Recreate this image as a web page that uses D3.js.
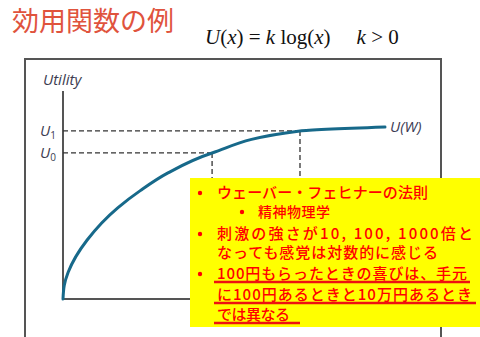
<!DOCTYPE html>
<html><head><meta charset="utf-8">
<script src="https://cdn.jsdelivr.net/npm/d3@7"></script>
<style>body{margin:0;background:#fff;overflow:hidden}</style></head>
<body>
<svg id="c" width="480" height="337"></svg>
<script>
// ---- data ----
const wealth  = [0, 0.4, 1.6, 7.5, 17, 24, 32.6, 46.3, 73.6, 100];
const utility = [0, 8, 15.5, 34.3, 53, 63, 73.3, 84.9, 97.7, 100];
const markW = [46.3, 73.6];
const markU = [84.9, 97.7];
const markSub = ["0", "1"];
const titleText = "効用関数の例";
const yAxisTitle = "Utility";
const curveLabel = "U(W)";
const noteLines = [
  {text: "ウェーバー・フェヒナーの法則", bullet: 1, level: 0, under: false},
  {text: "精神物理学", bullet: 1, level: 1, under: false},
  {text: "刺激の強さが10, 100, 1000倍と", bullet: 1, level: 0, under: false},
  {text: "なっても感覚は対数的に感じる", bullet: 0, level: 0, under: false},
  {text: "100円もらったときの喜びは、手元", bullet: 1, level: 0, under: true},
  {text: "に100円あるときと10万円あるとき", bullet: 0, level: 0, under: true},
  {text: "では異なる", bullet: 0, level: 0, under: true}
];
const lineY = [193, 212, 234, 253, 274, 295, 315];
const lineW = [211, 72, 256, 221, 250, 255, 73];
const underEnd = [0, 0, 0, 0, 470, 476, 300];

const svg = d3.select("#c");
const x = d3.scaleLinear([0, 100], [63, 385]);
const y = d3.scaleLinear([0, 100], [299, 127]);
const jp = "'Noto Sans CJK JP', 'Noto Sans', sans-serif";
const sans = "'Open Sans', 'DejaVu Sans', sans-serif";

// title
svg.append("text").attr("x", 12).attr("y", 31)
  .attr("font-family", jp).attr("font-size", 27).attr("fill", "#e0533d")
  .text(titleText);

// formula
const f = svg.append("text").attr("x", 205).attr("y", 44)
  .attr("font-family", "'Liberation Serif', 'DejaVu Serif', serif").attr("font-size", 21).attr("fill", "#111");
f.append("tspan").attr("font-style", "italic").text("U");
f.append("tspan").text("(");
f.append("tspan").attr("font-style", "italic").text("x");
f.append("tspan").text(") = ");
f.append("tspan").attr("font-style", "italic").text("k");
f.append("tspan").text(" log(");
f.append("tspan").attr("font-style", "italic").text("x");
f.append("tspan").text(")");
f.append("tspan").attr("dx", 26).attr("font-style", "italic").text("k");
f.append("tspan").text(" > 0");

// outer frame
svg.append("path").attr("d", "M25,337V59H441V337")
  .attr("fill", "none").attr("stroke", "#555").attr("stroke-width", 2);

// axes
svg.append("line").attr("x1", x(0)).attr("x2", x(0)).attr("y1", y(0) + 1).attr("y2", y(120.9))
  .attr("stroke", "#555").attr("stroke-width", 2);
svg.append("line").attr("x1", x(0)).attr("x2", x(115)).attr("y1", y(0)).attr("y2", y(0))
  .attr("stroke", "#555").attr("stroke-width", 2);

svg.append("text").attr("x", 43).attr("y", 85)
  .attr("font-family", sans).attr("font-style", "italic")
  .attr("font-size", 15).attr("fill", "#3c3c50").text(yAxisTitle);

// dashed guides
markW.forEach((w, i) => {
  svg.append("line").attr("x1", x(0)).attr("x2", x(w)).attr("y1", y(markU[i])).attr("y2", y(markU[i]))
    .attr("stroke", "#333").attr("stroke-width", 1.3).attr("stroke-dasharray", "5,3");
  svg.append("line").attr("x1", x(w)).attr("x2", x(w)).attr("y1", y(markU[i])).attr("y2", y(0))
    .attr("stroke", "#333").attr("stroke-width", 1.3).attr("stroke-dasharray", "5,3");
  const t = svg.append("text").attr("x", 40).attr("y", y(markU[i]) + 5)
    .attr("font-family", sans).attr("font-style", "italic")
    .attr("font-size", 15).attr("fill", "#3c3c50");
  t.append("tspan").text("U");
  t.append("tspan").attr("font-size", 10).attr("dy", 3).attr("font-style", "normal").text(markSub[i]);
});

// curve
const pts = wealth.map((w, i) => [w, utility[i]]);
svg.append("path").datum(pts)
  .attr("d", d3.line().x(d => x(d[0])).y(d => y(d[1])).curve(d3.curveMonotoneY))
  .attr("fill", "none").attr("stroke", "#17698a").attr("stroke-width", 3).attr("stroke-linecap", "round");

svg.append("text").attr("x", x(100) + 5).attr("y", y(100) + 5)
  .attr("font-family", sans).attr("font-style", "italic")
  .attr("font-size", 15).attr("fill", "#3c3c55").text(curveLabel);

// note box
svg.append("rect").attr("x", 190).attr("y", 178).attr("width", 290).attr("height", 149).attr("fill", "#ffff00");
noteLines.forEach((l, i) => {
  const tx = l.level ? 258 : 217;
  const fs = l.level ? 14 : 15;
  if (l.bullet) {
    svg.append("circle").attr("cx", l.level ? 242 : 200).attr("cy", lineY[i]).attr("r", 2.2).attr("fill", "#ff0000");
  }
  svg.append("text").attr("x", tx).attr("y", lineY[i] + fs * 0.36)
    .attr("font-family", jp).attr("font-size", fs).attr("font-weight", 500).attr("fill", "#ff0000")
    .attr("textLength", lineW[i]).attr("lengthAdjust", "spacing")
    .text(l.text);
  if (l.under) {
    svg.append("line").attr("x1", 214).attr("x2", underEnd[i])
      .attr("y1", lineY[i] + 8).attr("y2", lineY[i] + 8)
      .attr("stroke", "#ee1111").attr("stroke-width", 2.5);
  }
});
</script>
</body></html>
